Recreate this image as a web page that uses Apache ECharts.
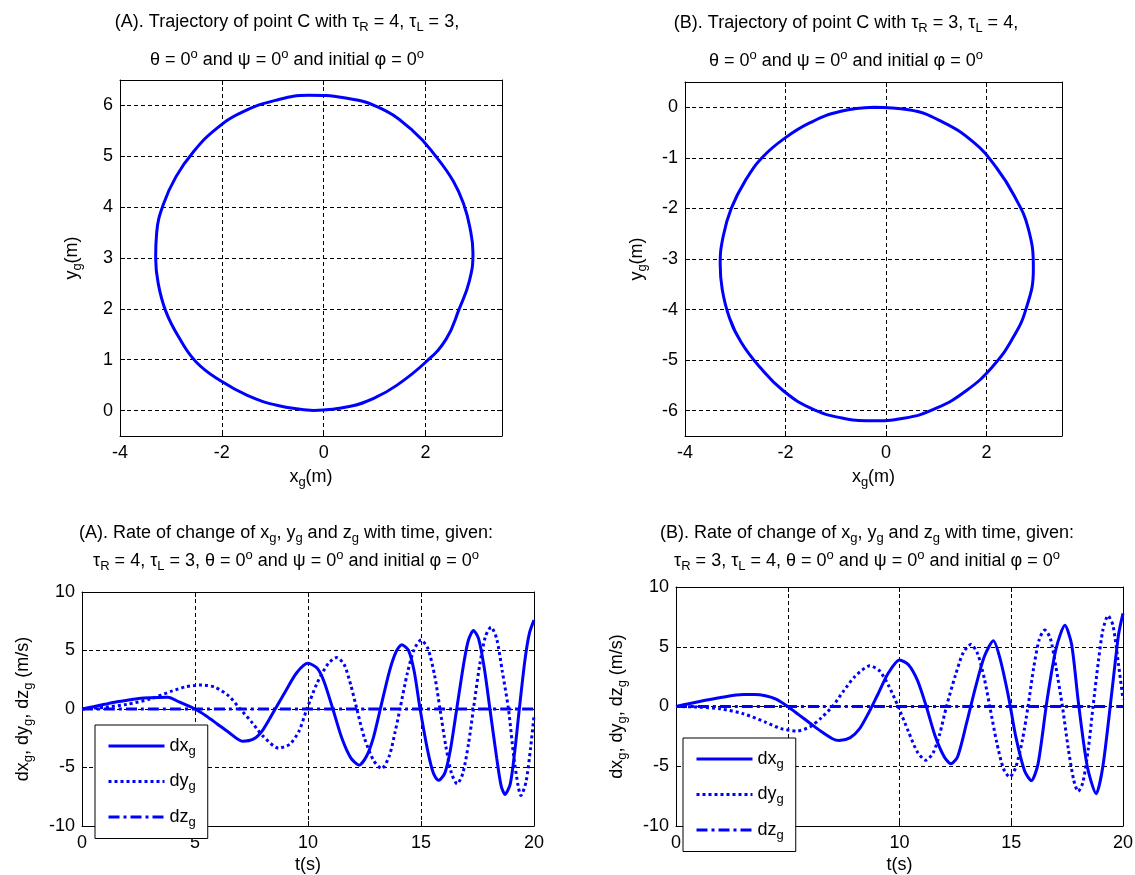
<!DOCTYPE html>
<html>
<head>
<meta charset="utf-8">
<script src="https://cdn.jsdelivr.net/npm/echarts@6/dist/echarts.min.js"></script>
<style>
  html, body { margin: 0; background: #fff; }
  #chart { width: 1135px; height: 875px; }
</style>
</head>
<body>
<div id="chart"></div>
<script>
// trajectory of point C
const trajAx = [-0.2, 0.5, 1.0, 1.44, 2.0, 2.4, 2.66, 2.86, 2.93, 2.87, 2.75, 2.55, 2.2, 1.75, 1.1, 0.4, -0.3, -0.95, -1.6, -2.1, -2.55, -2.9, -3.15, -3.28, -3.3, -3.25, -3.1, -2.85, -2.5, -2.0, -1.5, -0.9, -0.2];
const trajAy = [0, 0.08, 0.25, 0.5, 0.95, 1.4, 2.0, 2.55, 3.1, 3.6, 4.05, 4.5, 5.0, 5.5, 5.95, 6.15, 6.2, 6.1, 5.87, 5.55, 5.1, 4.6, 4.05, 3.5, 3.0, 2.5, 1.95, 1.45, 0.95, 0.57, 0.3, 0.1, 0];
const trajBx = [-0.24, -0.9, -1.5, -2.0, -2.45, -2.8, -3.08, -3.24, -3.3, -3.26, -3.12, -2.88, -2.5, -2.05, -1.5, -0.9, -0.3, 0.35, 1.0, 1.6, 2.1, 2.5, 2.78, 2.93, 2.83, 2.55, 2.2, 1.75, 1.1, 0.45, -0.24];
const trajBy = [0, -0.08, -0.3, -0.6, -0.98, -1.45, -2.0, -2.55, -3.1, -3.6, -4.15, -4.65, -5.15, -5.6, -5.95, -6.14, -6.2, -6.15, -5.95, -5.6, -5.15, -4.6, -4.0, -3.2, -2.4, -1.75, -1.2, -0.7, -0.28, -0.05, 0];

// rates of change, case A
const tDxA = [0, 0.5, 1, 1.5, 2, 2.5, 3, 3.8, 4.3, 5, 5.5, 6, 6.5, 7.1, 7.6, 8, 8.55, 9, 9.5, 10, 10.4, 10.7, 11.1, 11.5, 11.9, 12.26, 12.6, 12.9, 13.2, 13.6, 13.9, 14.15, 14.45, 14.7, 14.96, 15.3, 15.55, 15.77, 16.05, 16.3, 16.58, 16.9, 17.1, 17.32, 17.55, 17.8, 18.05, 18.35, 18.55, 18.72, 18.95, 19.15, 19.35, 19.6, 19.8, 20];
const dxA = [0, 0.2, 0.4, 0.6, 0.75, 0.9, 0.97, 1.0, 0.6, 0, -0.6, -1.3, -2.0, -2.75, -2.55, -1.8, 0, 1.5, 3.1, 3.9, 3.5, 2.4, 0, -2.5, -4.2, -4.8, -4.0, -2.4, 0, 3.2, 4.9, 5.5, 5.0, 3.2, 0, -3.6, -5.5, -6.1, -5.5, -3.5, 0, 4.0, 5.9, 6.7, 6.0, 3.5, 0, -4.2, -6.6, -7.3, -6.4, -3.6, 0, 4.2, 6.5, 7.6];
const tDyA = [0, 1, 2, 3, 4, 4.6, 5.3, 5.9, 6.5, 7, 7.5, 8, 8.7, 9.2, 9.6, 9.95, 10.4, 10.9, 11.27, 11.6, 11.9, 12.16, 12.5, 12.9, 13.26, 13.6, 13.85, 14.07, 14.4, 14.7, 15.0, 15.3, 15.6, 15.84, 16.1, 16.35, 16.6, 16.85, 17.1, 17.32, 17.6, 17.85, 18.1, 18.35, 18.6, 18.87, 19.1, 19.3, 19.42, 19.65, 19.85, 20];
const dyA = [0, 0.15, 0.4, 0.85, 1.55, 1.9, 2.05, 1.85, 1.1, 0, -1.1, -2.3, -3.35, -3.0, -1.9, 0, 2.2, 3.9, 4.4, 3.8, 2.0, 0, -2.5, -4.4, -5.1, -4.0, -2.0, 0, 3.1, 5.1, 5.9, 5.2, 2.9, 0, -3.2, -5.5, -6.4, -5.5, -3.0, 0, 3.8, 6.2, 7.0, 6.0, 3.2, 0, -4.0, -6.6, -7.4, -6.2, -3.3, -0.6];

// rates of change, case B
const tDxB = [0, 1, 2, 3, 3.5, 4, 4.5, 5, 5.5, 6, 6.5, 7, 7.3, 7.8, 8.2, 8.6, 9, 9.5, 10, 10.4, 10.8, 11.2, 11.6, 12, 12.3, 12.6, 13, 13.4, 13.8, 14.2, 14.5, 14.9, 15.2, 15.6, 15.9, 16.2, 16.6, 17, 17.4, 17.7, 18, 18.4, 18.8, 19.1, 19.5, 19.8, 20];
const dxB = [0, 0.4, 0.75, 1.0, 1.0, 0.9, 0.6, 0, -0.7, -1.4, -2.1, -2.7, -2.85, -2.6, -1.9, -0.6, 0.9, 2.8, 3.9, 3.5, 2.2, 0, -2.5, -4.2, -4.8, -4.2, -1.4, 1.6, 4.2, 5.5, 4.0, 0.6, -2.5, -5.4, -6.2, -4.8, 0.5, 4.8, 6.8, 5.2, 0.4, -5.0, -7.3, -5.0, 1.2, 6.0, 7.8];
const tDyB = [0, 1, 2, 3, 4, 4.7, 5.4, 6, 6.5, 7, 7.5, 8, 8.67, 9.1, 9.5, 9.94, 10.4, 10.8, 11.18, 11.5, 11.8, 12.1, 12.5, 12.85, 13.2, 13.5, 13.8, 14.04, 14.35, 14.65, 14.93, 15.2, 15.5, 15.75, 16.0, 16.25, 16.5, 16.75, 17.0, 17.29, 17.55, 17.8, 17.99, 18.2, 18.45, 18.66, 18.9, 19.1, 19.33, 19.55, 19.8, 20];
const dyB = [0, -0.05, -0.2, -0.6, -1.3, -1.85, -2.05, -1.7, -0.95, 0, 1.3, 2.5, 3.4, 3.0, 1.8, 0, -2.1, -3.8, -4.5, -3.9, -2.3, 0, 2.6, 4.5, 5.2, 4.4, 2.3, 0, -3.0, -5.2, -5.9, -5.1, -2.8, 0, 3.2, 5.6, 6.4, 5.7, 3.3, 0, -3.5, -6.2, -7.1, -6.4, -3.5, 0, 3.8, 6.4, 7.6, 6.8, 3.5, 0.6];

// dz stays at zero in both cases
const tDz = [0, 20];
const dz = [0, 0];

const legendNames = ['dx', 'dy', 'dz'];

const font = 'Liberation Sans';
const blue = '#0000ff';

const rich = {
  n: { fontFamily: font, fontSize: 18, fontWeight: 'normal', color: '#000' },
  b: { fontFamily: font, fontSize: 13, fontWeight: 'normal', color: '#000', padding: [10, 0, 0, 0] },
  p: { fontFamily: font, fontSize: 13, fontWeight: 'normal', color: '#000', padding: [0, 0, 12, 0] }
};

const titleA = '{n|(A). Trajectory of point C with τ}{b|R}{n| = 4, τ}{b|L}{n| = 3,}\n' +
  '{n|θ = 0}{p|o}{n| and ψ = 0}{p|o}{n| and initial φ = 0}{p|o}';
const titleB = '{n|(B). Trajectory of point C with τ}{b|R}{n| = 3, τ}{b|L}{n| = 4,}\n' +
  '{n|θ = 0}{p|o}{n| and ψ = 0}{p|o}{n| and initial φ = 0}{p|o}';
const titleC = '{n|(A). Rate of change of x}{b|g}{n|, y}{b|g}{n| and z}{b|g}{n| with time, given:}\n' +
  '{n|τ}{b|R}{n| = 4, τ}{b|L}{n| = 3, θ = 0}{p|o}{n| and ψ = 0}{p|o}{n| and initial φ = 0}{p|o}';
const titleD = '{n|(B). Rate of change of x}{b|g}{n|, y}{b|g}{n| and z}{b|g}{n| with time, given:}\n' +
  '{n|τ}{b|R}{n| = 3, τ}{b|L}{n| = 4, θ = 0}{p|o}{n| and ψ = 0}{p|o}{n| and initial φ = 0}{p|o}';

const xName = '{n|x}{b|g}{n|(m)}';
const yName = '{n|y}{b|g}{n|(m)}';
const rateName = '{n|dx}{b|g}{n|, dy}{b|g}{n|, dz}{b|g}{n| (m/s)}';

function pairs(xs, ys) {
  return xs.map((x, i) => [x, ys[i]]);
}

const tickLabel = { color: '#000', fontFamily: font, fontSize: 18, margin: 8 };

function valueAxis(opt) {
  return Object.assign({
    type: 'value',
    nameLocation: 'middle',
    nameTextStyle: { rich: rich },
    axisLine: { show: true, onZero: false, lineStyle: { color: '#000', width: 1 } },
    axisTick: { show: true, inside: true, length: 5, lineStyle: { color: '#000' } },
    axisLabel: tickLabel,
    splitLine: { show: true, lineStyle: { color: '#000', width: 1, type: [4, 3] } }
  }, opt);
}

// extra axes on top / right so every plot gets a closed box
function frameAxis(opt) {
  return Object.assign({
    type: 'value',
    axisLine: { show: true, onZero: false, lineStyle: { color: '#000', width: 1 } },
    axisTick: { show: true, inside: true, length: 5, lineStyle: { color: '#000' } },
    axisLabel: { show: false },
    splitLine: { show: false }
  }, opt);
}

const evenLabel = v => (v % 2 === 0 ? String(v) : '');
const intLabel = v => (Number.isInteger(v) ? String(v) : '');

function legendAt(left, top) {
  return {
    orient: 'vertical',
    left: left,
    top: top,
    data: legendNames,
    selectedMode: false,
    backgroundColor: '#fff',
    borderColor: '#000',
    borderWidth: 1,
    borderRadius: 0,
    padding: [12, 12, 10, 12],
    itemGap: 15,
    itemWidth: 56,
    itemHeight: 14,
    itemStyle: { opacity: 0 },
    lineStyle: { width: 3 },
    formatter: name => '{n|' + name + '}{b|g}',
    textStyle: { rich: rich }
  };
}

function line(name, xi, data, dash, smooth) {
  return {
    name: name,
    type: 'line',
    xAxisIndex: xi,
    yAxisIndex: xi,
    data: data,
    symbol: 'none',
    smooth: smooth || 0.25,
    lineStyle: { color: blue, width: 3, type: dash || 'solid', cap: 'butt' },
    itemStyle: { color: blue },
    z: 3
  };
}

const dotted = [3, 3];
const dashDot = [11, 4, 3, 4];

const option = {
  animation: false,
  backgroundColor: '#fff',
  textStyle: { fontFamily: font },
  title: [
    { text: titleA, left: 287, top: 3, textAlign: 'center', padding: 0, textStyle: { rich: rich, lineHeight: 38 } },
    { text: titleB, left: 846, top: 4, textAlign: 'center', padding: 0, textStyle: { rich: rich, lineHeight: 38 } },
    { text: titleC, left: 286, top: 519, textAlign: 'center', padding: 0, textStyle: { rich: rich, lineHeight: 28 } },
    { text: titleD, left: 867, top: 519, textAlign: 'center', padding: 0, textStyle: { rich: rich, lineHeight: 28 } }
  ],
  grid: [
    { left: 120, top: 80, width: 382, height: 356, outerBoundsMode: 'none' },
    { left: 685, top: 82, width: 377, height: 354, outerBoundsMode: 'none' },
    { left: 82, top: 592, width: 452, height: 234, outerBoundsMode: 'none' },
    { left: 676, top: 587, width: 447, height: 239, outerBoundsMode: 'none' }
  ],
  xAxis: [
    valueAxis({ gridIndex: 0, min: -4, max: 3.5, interval: 2, name: xName, nameGap: 30,
      axisLabel: Object.assign({}, tickLabel, { formatter: evenLabel }) }),
    valueAxis({ gridIndex: 1, min: -4, max: 3.5, interval: 2, name: xName, nameGap: 30,
      axisLabel: Object.assign({}, tickLabel, { formatter: evenLabel }) }),
    valueAxis({ gridIndex: 2, min: 0, max: 20, interval: 5, name: '{n|t(s)}', nameGap: 30 }),
    valueAxis({ gridIndex: 3, min: 0, max: 20, interval: 5, name: '{n|t(s)}', nameGap: 30 }),
    frameAxis({ gridIndex: 0, position: 'top', min: -4, max: 3.5, interval: 2 }),
    frameAxis({ gridIndex: 1, position: 'top', min: -4, max: 3.5, interval: 2 }),
    frameAxis({ gridIndex: 2, position: 'top', min: 0, max: 20, interval: 5 }),
    frameAxis({ gridIndex: 3, position: 'top', min: 0, max: 20, interval: 5 })
  ],
  yAxis: [
    valueAxis({ gridIndex: 0, min: -0.5, max: 6.5, splitNumber: 7, name: yName, nameGap: 36, nameRotate: 90,
      axisLabel: Object.assign({}, tickLabel, { margin: 7, formatter: intLabel }) }),
    valueAxis({ gridIndex: 1, min: -6.5, max: 0.5, splitNumber: 7, name: yName, nameGap: 36, nameRotate: 90,
      axisLabel: Object.assign({}, tickLabel, { margin: 7, formatter: intLabel }) }),
    valueAxis({ gridIndex: 2, min: -10, max: 10, interval: 5, name: rateName, nameGap: 47, nameRotate: 90,
      axisLabel: Object.assign({}, tickLabel, { margin: 7 }) }),
    valueAxis({ gridIndex: 3, min: -10, max: 10, interval: 5, name: rateName, nameGap: 47, nameRotate: 90,
      axisLabel: Object.assign({}, tickLabel, { margin: 7 }) }),
    frameAxis({ gridIndex: 0, position: 'right', min: -0.5, max: 6.5, splitNumber: 7 }),
    frameAxis({ gridIndex: 1, position: 'right', min: -6.5, max: 0.5, splitNumber: 7 }),
    frameAxis({ gridIndex: 2, position: 'right', min: -10, max: 10, interval: 5 }),
    frameAxis({ gridIndex: 3, position: 'right', min: -10, max: 10, interval: 5 })
  ],
  legend: [legendAt(95, 725), legendAt(683, 738)],
  series: [
    line('trajA', 0, pairs(trajAx, trajAy), null, 0.45),
    line('trajB', 1, pairs(trajBx, trajBy), null, 0.45),
    line('dx', 2, pairs(tDxA, dxA)),
    line('dy', 2, pairs(tDyA, dyA), dotted),
    line('dz', 2, pairs(tDz, dz), dashDot),
    line('dx', 3, pairs(tDxB, dxB)),
    line('dy', 3, pairs(tDyB, dyB), dotted),
    line('dz', 3, pairs(tDz, dz), dashDot)
  ]
};

const chart = echarts.init(document.getElementById('chart'), null, { renderer: 'canvas' });
chart.setOption(option);
</script>
</body>
</html>
